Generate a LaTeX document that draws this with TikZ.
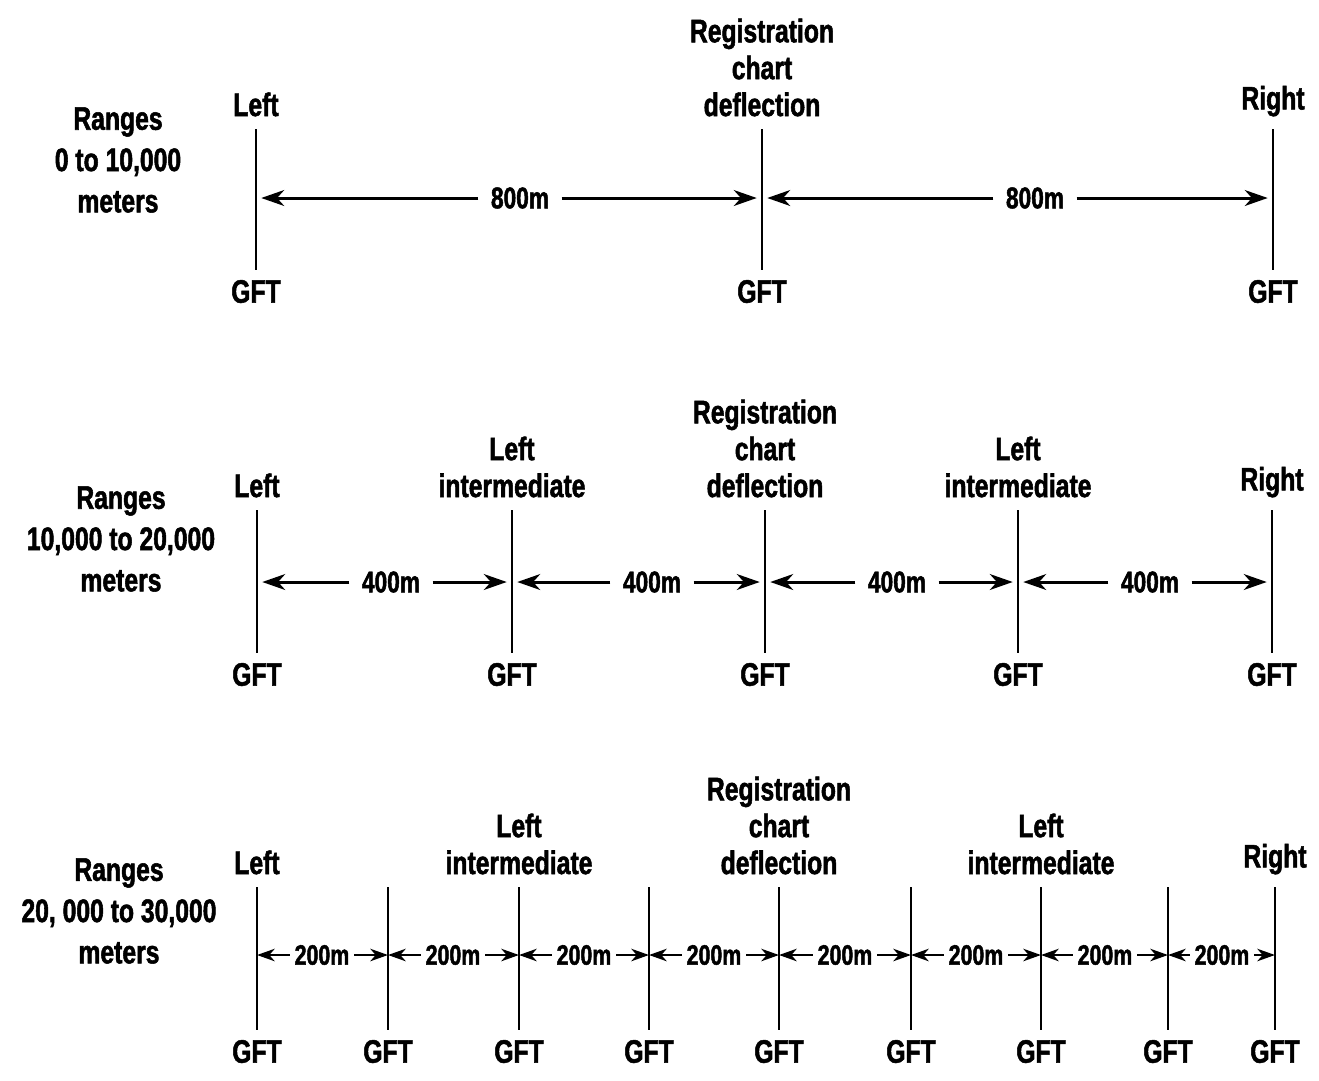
\documentclass[tikz,border=0pt]{standalone}
\usepackage{fontspec}
\newfontfamily\cnfont[FakeStretch=0.76,BoldFeatures={FakeBold=1.6}]{Liberation Sans}
\usetikzlibrary{positioning}
\usetikzlibrary{arrows.meta}

\tikzset{
 lbl/.style={font=\cnfont\bfseries\fontsize{18.5}{21}\selectfont,align=center,inner sep=0pt},
 rng/.style={font=\cnfont\bfseries\fontsize{18.5}{23.5}\selectfont,align=center,inner sep=0pt},
 dist/.style={font=\cnfont\bfseries\fontsize{17}{18}\selectfont,inner xsep=7pt,inner ysep=0pt},
 sdist/.style={font=\cnfont\bfseries\fontsize{16}{16}\selectfont,inner xsep=2.5pt,inner ysep=0pt},
 tick/.style={line width=1.6pt},
 arr/.style={line width=1.7pt,-{Stealth[length=13pt,width=9pt,inset=4pt]},shorten >=3pt},
 sarr/.style={line width=1.6pt,-{Stealth[length=10pt,width=7pt,inset=3pt]}},
}

\begin{document}
\begin{tikzpicture}[x=0.02cm,y=-0.02cm]
 \useasboundingbox (0,0) rectangle (1319,1080);

 \foreach \x [count=\i] in {256,762,1273} {
  \coordinate (at\i) at (\x,129);
  \coordinate (am\i) at (\x,198);
  \coordinate (ab\i) at (\x,270);
  \draw[tick] (at\i) -- (ab\i);
  \node[lbl,below=5.5pt of ab\i] (ag\i) {GFT};
 }
 \node[rng] (ar) at (118,160) {Ranges\\0 to 10,000\\meters};
 \node[lbl,above=7pt of at1] (al1) {Left};
 \node[lbl,above=7pt of at2] (al2) {Registration\\chart\\deflection};
 \node[lbl,above=7pt of at3] (al3) {Right};
 \node[dist] (ad1) at (520,198) {800m};
 \node[dist] (ad2) at (1035,198) {800m};
 \draw[arr] (ad1) -- (am1);
 \draw[arr] (ad1) -- (am2);
 \draw[arr] (ad2) -- (am2);
 \draw[arr] (ad2) -- (am3);

 \foreach \x [count=\i] in {257,512,765,1018,1272} {
  \coordinate (bt\i) at (\x,510);
  \coordinate (bm\i) at (\x,582);
  \coordinate (bb\i) at (\x,653);
  \draw[tick] (bt\i) -- (bb\i);
  \node[lbl,below=5.5pt of bb\i] (bg\i) {GFT};
 }
 \node[rng] (br) at (121,539) {Ranges\\10,000 to 20,000\\meters};
 \node[lbl,above=7pt of bt1] (bl1) {Left};
 \node[lbl,above=7pt of bt2] (bl2) {Left\\intermediate};
 \node[lbl,above=7pt of bt3] (bl3) {Registration\\chart\\deflection};
 \node[lbl,above=7pt of bt4] (bl4) {Left\\intermediate};
 \node[lbl,above=7pt of bt5] (bl5) {Right};
 \foreach \x/\i/\j in {391/1/2,652/2/3,897/3/4,1150/4/5} {
  \node[dist] (bd\i) at (\x,582) {400m};
  \draw[arr] (bd\i) -- (bm\i);
  \draw[arr] (bd\i) -- (bm\j);
 }

 \foreach \x [count=\i] in {257,388,519,649,779,911,1041,1168,1275} {
  \coordinate (ct\i) at (\x,887);
  \coordinate (cm\i) at (\x,955);
  \coordinate (cb\i) at (\x,1030);
  \draw[tick] (ct\i) -- (cb\i);
  \node[lbl,below=5.5pt of cb\i] (cg\i) {GFT};
 }
 \node[rng] (cr) at (119,911) {Ranges\\20, 000 to 30,000\\meters};
 \node[lbl,above=7pt of ct1] (cl1) {Left};
 \node[lbl,above=7pt of ct3] (cl3) {Left\\intermediate};
 \node[lbl,above=7pt of ct5] (cl5) {Registration\\chart\\deflection};
 \node[lbl,above=7pt of ct7] (cl7) {Left\\intermediate};
 \node[lbl,above=7pt of ct9] (cl9) {Right};
 \foreach \x/\i/\j in {322/1/2,453/2/3,584/3/4,714/4/5,845/5/6,976/6/7,1105/7/8,1222/8/9} {
  \node[sdist] (cd\i) at (\x,955) {200m};
  \draw[sarr] (cd\i) -- (cm\i);
  \draw[sarr] (cd\i) -- (cm\j);
 }
\end{tikzpicture}
\end{document}
